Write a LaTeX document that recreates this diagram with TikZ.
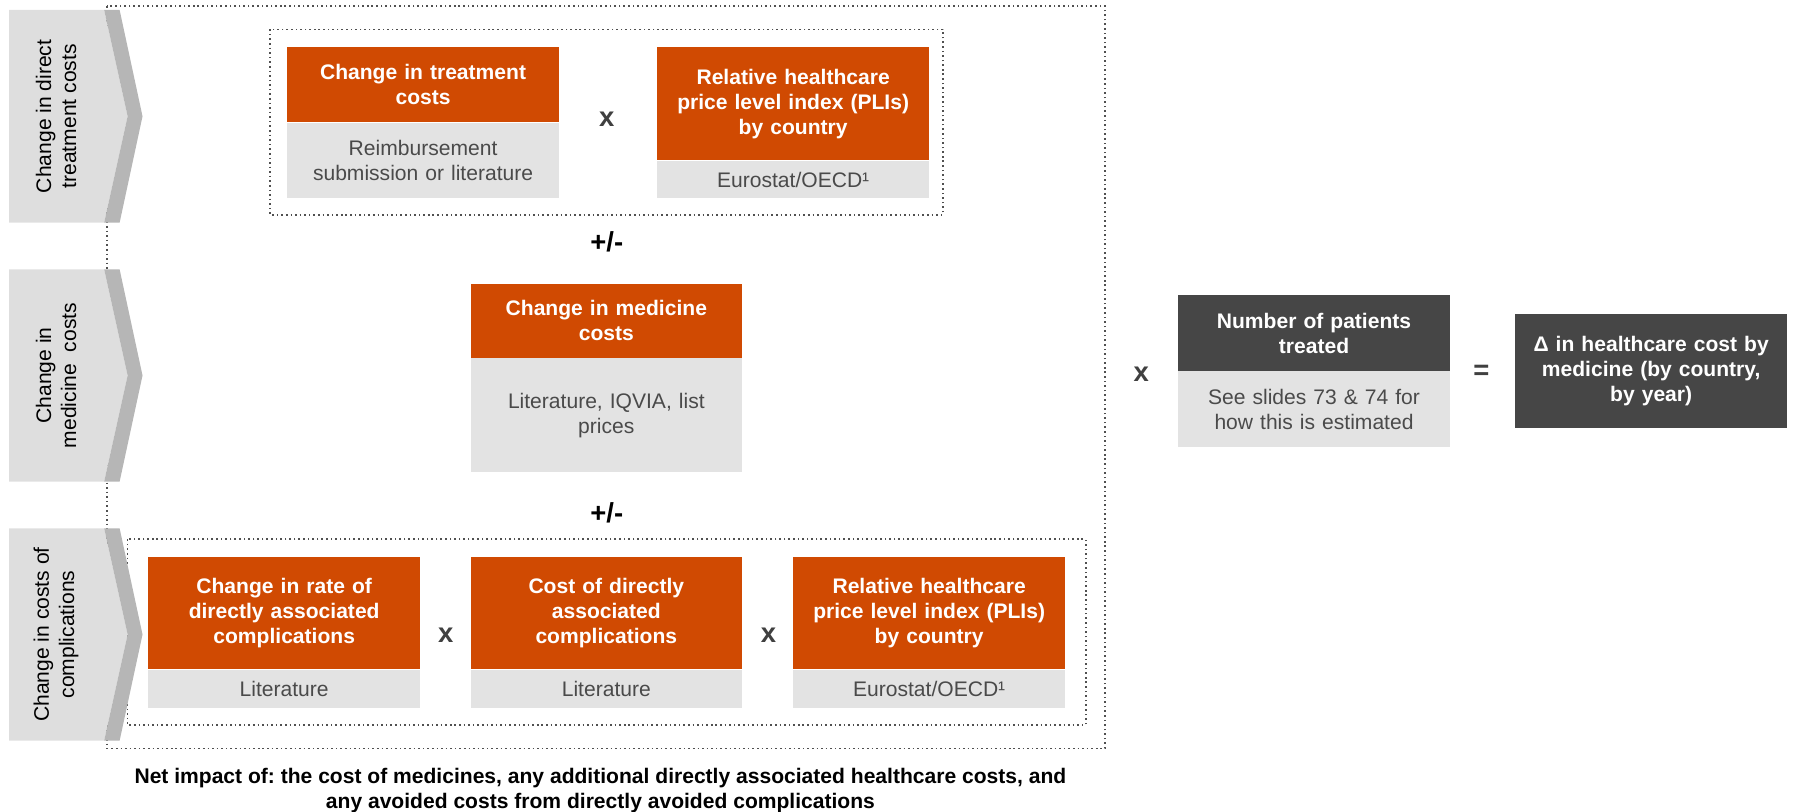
\documentclass[tikz,border=0pt]{standalone}
\usepackage{fontspec}
\setmainfont{Liberation Sans}
\frenchspacing
\definecolor{pwcorange}{HTML}{D04A02}
\definecolor{lightbox}{HTML}{E3E3E3}
\definecolor{darkbox}{HTML}{464646}
\definecolor{chevlight}{HTML}{DEDEDE}
\definecolor{chevdark}{HTML}{B6B6B6}
\definecolor{subtext}{HTML}{4A4A4A}
\definecolor{dotcol}{HTML}{505050}
\definecolor{opcol}{HTML}{404040}
\newcommand{\mychev}[2]{%
  \fill[chevlight] (8,#1) -- (91,#1) -- (111.5,{(#1+#2)/2}) -- (91,#2) -- (8,#2) -- cycle;
  \fill[chevdark] (91,#1) -- (104.5,#1) -- (124.5,{(#1+#2)/2}) -- (104.5,#2) -- (91,#2) -- (111.5,{(#1+#2)/2}) -- cycle;
}
\begin{document}
\begin{tikzpicture}[x=1pt,y=-1pt,
  hd/.style={anchor=north west, inner xsep=0pt, inner ysep=0pt, text width=237.3pt, align=center,
    fill=pwcorange, text=white, font=\bfseries\fontsize{18.4}{22}\selectfont},
  dk/.style={hd, fill=darkbox},
  srcbox/.style={anchor=north west, inner xsep=0pt, inner ysep=0pt, text width=237.3pt, align=center,
    fill=lightbox, text=subtext, font=\fontsize{18.4}{22}\selectfont},
  dotbox/.style={draw=dotcol, line width=1.4pt, dash pattern=on 1.4pt off 2.6pt},
  op/.style={font=\bfseries\fontsize{24}{24}\selectfont, text=opcol},
  pm/.style={font=\bfseries\fontsize{24}{24}\selectfont, text=black},
  chevtext/.style={rotate=90, align=center, font=\fontsize{18.4}{22}\selectfont, text=black},
]
\useasboundingbox (0,0) rectangle (1568,709);

% dotted frames
\draw[dotbox] (93.5,5.5) rectangle (965.5,653.7);
\draw[dotbox] (236,25.6) rectangle (823.6,187.8);
\draw[dotbox] (111.3,471) rectangle (948.4,633.3);

% chevrons
\mychev{8.7}{194.5}
\mychev{235.3}{420.7}
\mychev{461.5}{647}
\node[chevtext] (c1) at (49,101.6) {Change in direct\\treatment costs};
\node[chevtext] (c2) at (49,328) {Change in\\medicine~~costs};
\node[chevtext] (c3) at (49,554.2) {Change in costs of\\complications};

% row 1
\node[hd, minimum height=65.6pt] (t1) at (250.7,41) {Change in treatment\\costs};
\node[srcbox, minimum height=66.1pt] (s1) at (t1.south west) {Reimbursement\\submission or literature};
\node[hd, minimum height=99pt] (t2) at (574,41) {Relative healthcare\\price level index (PLIs)\\by country};
\node[srcbox, minimum height=32.7pt] (s2) at (t2.south west) {Eurostat/OECD¹};
\node[op] (x1) at (530,104) {x};
\node[pm] (pm1) at (530,211) {+/-};

% row 2
\node[hd, minimum height=64.9pt] (t3) at (410.8,247.5) {Change in medicine\\costs};
\node[srcbox, minimum height=99.6pt] (s3) at (t3.south west) {Literature, IQVIA, list\\prices};
\node[pm] (pm2) at (530,448) {+/-};

% row 3
\node[hd, minimum height=98.3pt] (t4) at (129.4,486.2) {Change in rate of\\directly associated\\complications};
\node[srcbox, minimum height=33pt] (s4) at (t4.south west) {Literature};
\node[hd, minimum height=98.3pt] (t5) at (410.8,486.2) {Cost of directly\\associated\\complications};
\node[srcbox, minimum height=33pt] (s5) at (t5.south west) {Literature};
\node[hd, minimum height=98.3pt] (t6) at (692.8,486.2) {Relative healthcare\\price level index (PLIs)\\by country};
\node[srcbox, minimum height=33pt] (s6) at (t6.south west) {Eurostat/OECD¹};
\node[op] (x2) at (389.4,554.5) {x};
\node[op] (x3) at (671.4,554.5) {x};

% right part
\node[op] (x4) at (997,327) {x};
\node[dk, minimum height=66.1pt] (t7) at (1029,257.7) {Number of patients\\treated};
\node[srcbox, minimum height=66.4pt] (s7) at (t7.south west) {See slides 73 \& 74 for\\how this is estimated};
\node[op] (eq) at (1294,325) {=};
\node[dk, minimum height=99.3pt] (t8) at (1323.5,274.3) {Δ in healthcare cost by\\medicine (by country,\\by year)};

% caption
\node[align=center, font=\bfseries\fontsize{18.4}{22}\selectfont, text=black] (net) at (524.5,690.3)
  {Net impact of: the cost of medicines, any additional directly associated healthcare costs, and\\any avoided costs from directly avoided complications};
\end{tikzpicture}
\end{document}
